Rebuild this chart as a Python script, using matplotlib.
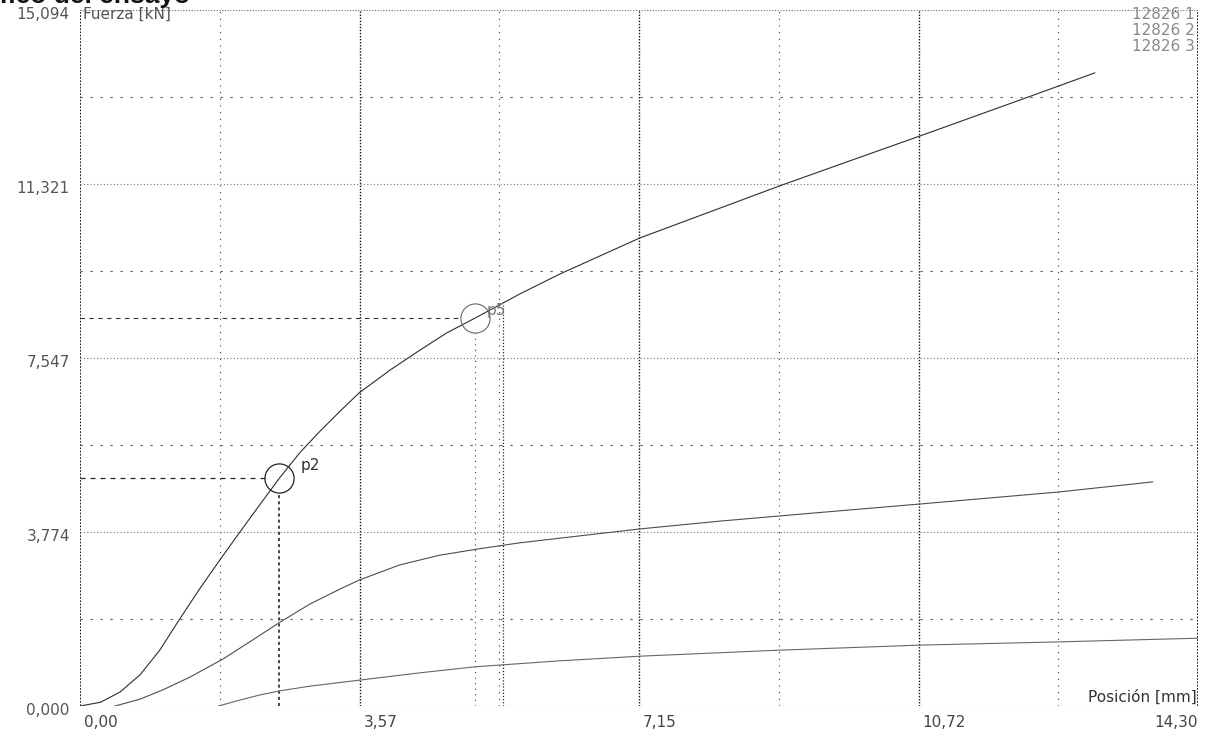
"""
Gráfico del ensayo: fuerza frente a posición para tres probetas
"""
import numpy as np
from matplotlib import pyplot as plt

# Datos de las curvas (posición en mm, fuerza en kN)
pos_1 = [0.00, 0.26, 0.51, 0.77, 1.02, 1.25, 1.53, 1.79, 2.01, 2.28, 2.55, 2.81, 3.07, 3.33,
         3.57, 3.97, 4.35, 4.69, 5.05, 5.63, 6.14, 6.65, 7.16, 8.19, 8.95, 9.81, 10.74,
         12.02, 12.98]
fuerza_1 = [0.00, 0.08, 0.30, 0.68, 1.21, 1.82, 2.54, 3.17, 3.69, 4.32, 4.94, 5.49, 5.96, 6.40,
            6.79, 7.29, 7.72, 8.09, 8.41, 8.94, 9.37, 9.76, 10.15, 10.80, 11.28, 11.80, 12.36,
            13.14, 13.73]

pos_2 = [0.45, 0.77, 1.06, 1.41, 1.83, 2.17, 2.56, 2.94, 3.33, 3.57, 4.09, 4.60, 5.07, 5.63,
         6.14, 7.16, 8.19, 9.21, 10.74, 12.51, 13.72]
fuerza_2 = [0.00, 0.15, 0.35, 0.63, 1.02, 1.39, 1.82, 2.21, 2.54, 2.73, 3.06, 3.27, 3.40, 3.54,
            3.64, 3.84, 4.01, 4.16, 4.38, 4.64, 4.86]

pos_3 = [1.77, 2.05, 2.30, 2.56, 2.94, 3.57, 4.35, 5.05, 6.14, 7.16, 8.93, 10.74, 12.51, 14.30]
fuerza_3 = [0.00, 0.13, 0.24, 0.33, 0.43, 0.56, 0.72, 0.85, 0.98, 1.08, 1.21, 1.32, 1.39, 1.47]

series_names = ["12826 1", "12826 2", "12826 3"]
series_colors = ["#2e2e2e", "#4e4e4e", "#666666"]

# Puntos marcados sobre la curva 1
p2 = (2.55, 4.94)
p5 = (5.05, 8.41)
p5_extra_x = 5.41

x_max = 14.30
y_max = 15.094
x_ticks = np.linspace(0, x_max, 9)
y_ticks = np.linspace(0, y_max, 9)
x_labels = ["0,00", "3,57", "7,15", "10,72", "14,30"]
y_labels = ["0,000", "3,774", "7,547", "11,321", "15,094"]

plt.rcParams['font.family'] = ['DejaVu Sans']

fig = plt.figure(figsize=(12.14, 7.44), dpi=100)
W, H = 1214, 744
ax = fig.add_axes([80 / W, (H - 706) / H, (1198 - 80) / W, (706 - 10) / H])
ax.set_xlim(0, x_max)
ax.set_ylim(0, y_max)
ax.set_xticks([])
ax.set_yticks([])
for s in ax.spines.values():
    s.set_visible(False)

# Rejilla: líneas principales más densas, intermedias más claras
for i, xv in enumerate(x_ticks):
    if i in (0, 8):
        ax.axvline(xv, color="#111", lw=1.3, ls=(0, (1, 0.8)), zorder=1)
    elif i % 2 == 0:
        ax.axvline(xv, color="#111", lw=1.0, ls=(0, (1, 1.2)), zorder=1)
    else:
        ax.axvline(xv, color="#333", lw=0.8, ls=(0, (1, 5)), zorder=1)
for i, yv in enumerate(y_ticks):
    if i in (0, 8):
        ax.axhline(yv, color="#666", lw=0.8, ls=(0, (1, 1.5)), zorder=1)
    elif i % 2 == 0:
        ax.axhline(yv, color="#777", lw=0.8, ls=(0, (1, 2)), zorder=1)
    else:
        ax.axhline(yv, color="#555", lw=0.8, ls=(0, (2, 7)), zorder=1)

# Curvas
ax.plot(pos_1, fuerza_1, color=series_colors[0], lw=0.8, zorder=3)
ax.plot(pos_2, fuerza_2, color=series_colors[1], lw=0.8, zorder=3)
ax.plot(pos_3, fuerza_3, color=series_colors[2], lw=0.8, zorder=3)

# Marcadores p2 y p5 con sus líneas de referencia
ax.plot([0, p2[0] - 0.18], [p2[1], p2[1]], color="#222", lw=0.9, ls=(0, (4, 4)), zorder=2)
ax.plot([p2[0], p2[0]], [0, p2[1] - 0.32], color="#111", lw=1.1, ls=(0, (2, 2)), zorder=2)
ax.plot(p2[0], p2[1], marker="o", ms=21, mfc="none", mec="#222", mew=0.9, zorder=4)
ax.text(p2[0] + 0.27, p2[1] + 0.18, "p2", fontsize=11, color="#333")

ax.plot([0, p5[0] - 0.18], [p5[1], p5[1]], color="#333", lw=0.8, ls=(0, (4, 4)), zorder=2)
ax.plot([p5[0], p5[0]], [0, p5[1] - 0.32], color="#444", lw=0.8, ls=(0, (1, 4)), zorder=2)
ax.plot([p5_extra_x, p5_extra_x], [0, p5[1] + 0.28], color="#222", lw=0.9, ls=(0, (1, 1.5)), zorder=2)
ax.plot(p5[0], p5[1], marker="o", ms=21, mfc="none", mec="#666", mew=0.8, zorder=4)
ax.text(p5[0] + 0.15, p5[1] + 0.08, "p5", fontsize=11, color="#777")

# Etiquetas de los ejes
for xv, lab in zip(x_ticks[::2], x_labels):
    ha = "right" if lab == x_labels[-1] else "left"
    ax.text(xv + (0.05 if ha == "left" else 0), -0.36, lab, ha=ha, va="center",
            fontsize=11, color="#444")
for yv, lab in zip(y_ticks[::2], y_labels):
    ax.text(-0.13, yv - 0.1, lab, ha="right", va="center", fontsize=11, color="#555")

ax.text(0.04, y_max - 0.1, "Fuerza [kN]", ha="left", va="center", fontsize=11, color="#555")
ax.text(x_max - 0.02, 0.2, "Posición [mm]", ha="right", va="center", fontsize=11,
        color="#333", zorder=5)

# Leyenda de probetas
for k, name in enumerate(series_names):
    ax.text(x_max - 0.04, y_max - 0.09 - k * 0.35, name, ha="right", va="center",
            fontsize=11, color="#888")

# Título, recortado en el borde superior izquierdo
fig.text(190 / W, 1 - 3 / H, "Gráfico del ensayo", ha="right", va="baseline",
         fontsize=19, fontweight="bold", color="#111", family="Liberation Sans")

plt.savefig("out.png", dpi=100)
plt.close()
